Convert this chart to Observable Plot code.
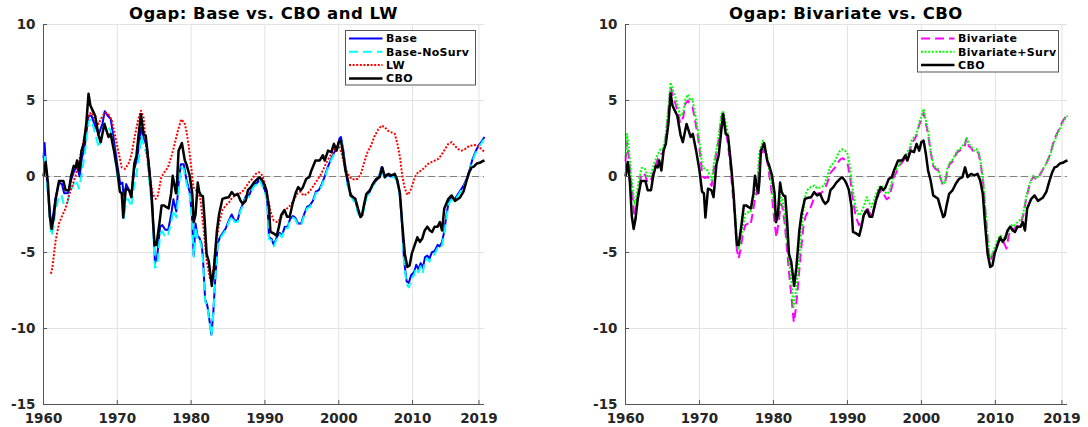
<!DOCTYPE html>
<html><head><meta charset="utf-8">
<script src="https://cdn.jsdelivr.net/npm/d3@7"></script>
<script src="https://cdn.jsdelivr.net/npm/@observablehq/plot@0.6"></script>
<style>
body{margin:0;background:#fff;}
#fig{position:relative;width:1088px;height:427px;overflow:hidden;font-family:"DejaVu Sans",sans-serif;background:#fff;}
.panel{position:absolute;top:0;}
.title{position:absolute;top:6px;font-weight:bold;font-size:16.5px;line-height:16px;letter-spacing:0.5px;color:#000;text-align:center;white-space:nowrap;width:500px;}
#legend{position:absolute;top:0;left:0;pointer-events:none;}
</style></head><body><div id="fig"></div>
<script>
// ---- axes ----
const xDomain = [1960, 2019.75];
const yDomain = [-15, 10];
const xTicks = [1960, 1970, 1980, 1990, 2000, 2010, 2019];
const yTicks = [-15, -10, -5, 0, 5, 10];
const titles = ["Ogap: Base vs. CBO and LW", "Ogap: Bivariate vs. CBO"];

// ---- series (year, output gap %) ----
const cbo = [[1960.0,0.0],[1960.3,0.95],[1960.6,-0.4],[1960.85,-2.6],[1961.1,-3.45],[1961.35,-2.8],[1961.65,-1.5],[1962.1,-0.3],[1962.4,-0.3],[1962.7,-0.3],[1963.0,-0.9],[1963.45,-0.9],[1963.75,0.05],[1964.1,0.7],[1964.35,0.6],[1964.55,1.05],[1964.85,0.4],[1965.15,1.7],[1965.45,2.15],[1965.8,3.5],[1966.1,5.44],[1966.35,4.67],[1966.7,4.3],[1967.0,4.0],[1967.45,2.7],[1967.75,2.26],[1968.25,3.46],[1968.55,3.0],[1968.8,2.6],[1969.1,2.8],[1969.55,1.7],[1970.0,0.4],[1970.35,-1.0],[1970.6,-1.1],[1970.8,-2.7],[1971.15,-0.8],[1971.6,-0.9],[1971.9,-1.36],[1972.3,0.83],[1972.6,1.4],[1972.9,2.8],[1973.2,4.1],[1973.55,2.8],[1973.85,2.7],[1974.3,0.6],[1974.6,-1.1],[1975.05,-4.5],[1975.3,-4.5],[1975.7,-3.1],[1976.0,-1.9],[1976.3,-1.9],[1976.6,-2.0],[1976.95,-2.1],[1977.3,-1.1],[1977.5,0.05],[1977.95,-1.1],[1978.1,-0.3],[1978.3,1.7],[1978.75,2.2],[1979.15,1.05],[1979.35,0.83],[1979.8,0.07],[1980.15,-1.1],[1980.35,-3.0],[1980.6,-2.5],[1980.9,-0.4],[1981.1,-1.0],[1981.35,-1.25],[1981.6,-1.3],[1981.85,-3.0],[1982.1,-5.1],[1982.4,-5.6],[1982.8,-7.2],[1983.1,-6.0],[1983.5,-3.55],[1983.8,-2.45],[1984.25,-1.47],[1984.7,-1.4],[1985.1,-1.36],[1985.5,-1.03],[1985.9,-1.25],[1986.3,-1.14],[1986.7,-1.6],[1987.0,-1.8],[1987.4,-1.6],[1987.7,-0.9],[1988.1,-0.7],[1988.5,-0.4],[1989.0,-0.15],[1989.3,-0.05],[1989.65,-0.26],[1989.9,-0.5],[1990.2,-0.9],[1990.55,-2.0],[1990.75,-3.65],[1991.2,-3.75],[1991.6,-3.9],[1991.9,-3.3],[1992.2,-2.55],[1992.65,-2.2],[1993.0,-2.65],[1993.35,-2.65],[1993.8,-1.7],[1994.2,-1.03],[1994.5,-0.7],[1994.85,-0.9],[1995.15,-0.7],[1995.6,-0.15],[1996.0,-0.05],[1996.3,0.4],[1996.85,1.05],[1997.4,1.05],[1997.85,1.4],[1998.1,1.05],[1998.55,1.7],[1999.0,1.6],[1999.35,2.15],[1999.7,1.7],[2000.0,2.26],[2000.3,2.36],[2000.6,1.5],[2000.9,0.4],[2001.25,-0.26],[2001.6,-1.25],[2001.95,-1.36],[2002.25,-1.47],[2002.6,-2.1],[2002.95,-2.67],[2003.15,-2.56],[2003.45,-1.8],[2003.75,-1.14],[2004.2,-0.92],[2004.65,-0.48],[2005.1,-0.15],[2005.55,-0.04],[2005.9,0.6],[2006.25,-0.04],[2006.7,0.17],[2007.15,0.07],[2007.6,0.17],[2007.95,-0.26],[2008.3,-1.14],[2008.6,-3.1],[2008.95,-5.08],[2009.3,-5.95],[2009.6,-5.85],[2009.9,-5.08],[2010.3,-4.5],[2010.65,-4.0],[2011.0,-4.3],[2011.3,-4.1],[2011.65,-3.55],[2012.0,-3.3],[2012.35,-3.55],[2012.65,-3.65],[2013.0,-3.3],[2013.4,-3.3],[2013.7,-3.0],[2014.0,-3.55],[2014.3,-2.1],[2014.85,-1.47],[2015.3,-1.25],[2015.75,-1.6],[2016.4,-1.4],[2016.9,-1.0],[2017.3,-0.3],[2017.7,0.3],[2018.0,0.6],[2018.3,0.65],[2018.7,0.85],[2019.1,0.9],[2019.45,1.0],[2019.75,1.05]];

const base = [[1960.0,1.2],[1960.15,2.2],[1960.35,0.5],[1960.6,-1.0],[1961.0,-3.0],[1961.2,-2.9],[1961.6,-1.5],[1962.1,-0.4],[1962.5,-0.5],[1962.8,-1.1],[1963.3,-1.1],[1963.7,-0.3],[1964.1,0.3],[1964.5,0.7],[1964.9,0.0],[1965.2,1.2],[1965.6,2.0],[1966.1,4.0],[1966.5,4.0],[1967.0,3.3],[1967.5,2.8],[1968.0,3.5],[1968.3,4.3],[1968.7,4.0],[1969.1,3.8],[1969.5,2.5],[1970.0,0.8],[1970.4,-0.5],[1970.7,-0.4],[1970.9,-1.6],[1971.2,-0.5],[1971.5,-0.8],[1971.9,-1.2],[1972.3,0.5],[1972.7,1.2],[1973.0,2.3],[1973.25,3.2],[1973.6,2.5],[1974.0,2.0],[1974.4,0.2],[1974.7,-1.3],[1975.1,-5.7],[1975.4,-5.3],[1975.8,-3.3],[1976.1,-3.2],[1976.5,-3.5],[1976.9,-3.5],[1977.3,-2.5],[1977.6,-1.5],[1978.0,-2.3],[1978.3,-0.5],[1978.6,0.8],[1979.0,0.8],[1979.4,-0.3],[1979.8,-1.0],[1980.1,-2.5],[1980.35,-5.2],[1980.6,-3.1],[1980.9,-4.0],[1981.1,-4.0],[1981.4,-4.4],[1981.6,-5.3],[1981.9,-8.1],[1982.2,-8.5],[1982.5,-9.5],[1982.75,-10.4],[1983.0,-9.0],[1983.3,-6.5],[1983.6,-4.4],[1983.9,-4.0],[1984.3,-3.7],[1984.7,-3.4],[1985.1,-2.9],[1985.5,-2.5],[1985.9,-2.9],[1986.3,-2.9],[1986.6,-2.3],[1987.0,-1.8],[1987.4,-1.3],[1987.9,-1.2],[1988.3,-0.7],[1988.6,-0.5],[1989.0,-0.4],[1989.3,-0.1],[1989.6,-0.5],[1990.0,-0.9],[1990.3,-1.5],[1990.55,-4.0],[1990.9,-4.1],[1991.2,-4.5],[1991.6,-4.0],[1992.0,-3.7],[1992.3,-3.9],[1992.7,-3.3],[1993.1,-3.3],[1993.4,-2.8],[1993.8,-2.6],[1994.1,-2.7],[1994.5,-3.1],[1994.9,-3.1],[1995.3,-2.5],[1995.7,-2.0],[1996.1,-1.9],[1996.5,-1.6],[1996.9,-1.0],[1997.3,-0.9],[1997.7,-0.5],[1998.1,0.0],[1998.5,0.6],[1999.0,1.2],[1999.4,1.6],[1999.8,1.9],[2000.1,2.5],[2000.3,2.6],[2000.6,1.8],[2000.9,0.7],[2001.2,-0.5],[2001.6,-1.1],[2002.0,-1.5],[2002.3,-1.6],[2002.6,-2.3],[2002.9,-2.6],[2003.2,-2.5],[2003.5,-1.8],[2003.8,-1.2],[2004.2,-1.0],[2004.6,-0.5],[2005.0,-0.3],[2005.4,-0.1],[2005.8,0.6],[2006.2,0.0],[2006.6,0.15],[2007.0,0.0],[2007.4,0.1],[2007.8,-0.1],[2008.2,-0.9],[2008.5,-2.5],[2008.85,-5.5],[2009.2,-6.9],[2009.5,-7.0],[2009.8,-6.5],[2010.2,-6.3],[2010.5,-5.8],[2010.8,-6.1],[2011.1,-5.7],[2011.4,-6.0],[2011.7,-5.3],[2012.0,-5.2],[2012.3,-5.4],[2012.6,-5.0],[2013.0,-4.9],[2013.4,-4.5],[2013.7,-4.6],[2014.0,-4.3],[2014.3,-3.6],[2014.6,-2.5],[2014.9,-1.7],[2015.3,-1.4],[2015.7,-1.5],[2016.1,-1.2],[2016.5,-0.9],[2016.9,-0.6],[2017.3,-0.2],[2017.7,0.4],[2018.1,1.1],[2018.5,1.6],[2018.9,2.0],[2019.35,2.3],[2019.75,2.6]];

const baseNoSurv = [[1960.0,1.1],[1960.2,1.3],[1960.4,0.0],[1960.7,-2.0],[1961.05,-3.9],[1961.3,-3.5],[1961.6,-2.3],[1962.0,-1.5],[1962.4,-1.2],[1962.8,-1.9],[1963.2,-1.8],[1963.6,-1.0],[1964.0,-0.6],[1964.4,-0.2],[1964.8,-0.8],[1965.2,0.2],[1965.6,1.5],[1966.1,3.6],[1966.5,3.8],[1967.0,2.8],[1967.5,1.9],[1968.0,2.9],[1968.3,3.5],[1968.7,3.3],[1969.1,3.0],[1969.5,1.9],[1970.0,0.0],[1970.4,-1.0],[1970.7,-1.2],[1970.9,-2.8],[1971.2,-1.5],[1971.5,-1.5],[1971.9,-2.0],[1972.3,-0.5],[1972.7,0.5],[1973.0,1.5],[1973.25,2.7],[1973.6,2.0],[1974.0,1.4],[1974.4,-0.6],[1974.7,-2.0],[1975.1,-6.0],[1975.4,-5.9],[1975.8,-3.8],[1976.1,-3.6],[1976.5,-4.0],[1976.9,-3.8],[1977.3,-3.0],[1977.6,-2.2],[1978.0,-2.7],[1978.3,-1.0],[1978.6,0.6],[1979.0,0.5],[1979.4,-0.5],[1979.8,-1.2],[1980.1,-2.7],[1980.35,-5.3],[1980.6,-3.3],[1980.9,-4.2],[1981.1,-4.1],[1981.4,-4.6],[1981.6,-5.5],[1981.9,-8.2],[1982.2,-8.6],[1982.5,-9.6],[1982.75,-10.5],[1983.0,-9.1],[1983.3,-6.6],[1983.6,-4.5],[1983.9,-4.1],[1984.3,-3.8],[1984.7,-3.5],[1985.1,-3.0],[1985.5,-2.6],[1985.9,-3.0],[1986.3,-3.0],[1986.6,-2.4],[1987.0,-1.9],[1987.4,-1.4],[1987.9,-1.3],[1988.3,-0.8],[1988.6,-0.6],[1989.0,-0.5],[1989.3,-0.2],[1989.6,-0.6],[1990.0,-1.0],[1990.3,-1.6],[1990.55,-4.1],[1990.9,-4.2],[1991.2,-4.6],[1991.6,-4.1],[1992.0,-3.8],[1992.3,-4.0],[1992.7,-3.4],[1993.1,-3.4],[1993.4,-2.9],[1993.8,-2.7],[1994.1,-2.8],[1994.5,-3.2],[1994.9,-3.2],[1995.3,-2.6],[1995.7,-2.1],[1996.1,-2.0],[1996.5,-1.7],[1996.9,-1.1],[1997.3,-1.0],[1997.7,-0.6],[1998.1,-0.1],[1998.5,0.5],[1999.0,1.1],[1999.4,1.5],[1999.8,1.8],[2000.1,2.4],[2000.3,2.5],[2000.6,1.7],[2000.9,0.6],[2001.2,-0.6],[2001.6,-1.2],[2002.0,-1.6],[2002.3,-1.7],[2002.6,-2.4],[2002.9,-2.7],[2003.2,-2.6],[2003.5,-1.9],[2003.8,-1.3],[2004.2,-1.1],[2004.6,-0.6],[2005.0,-0.4],[2005.4,-0.2],[2005.8,0.5],[2006.2,-0.1],[2006.6,0.05],[2007.0,-0.1],[2007.4,0.0],[2007.8,-0.2],[2008.2,-1.0],[2008.5,-2.6],[2008.85,-5.7],[2009.2,-7.1],[2009.5,-7.3],[2009.8,-6.8],[2010.2,-6.5],[2010.5,-6.0],[2010.8,-6.3],[2011.1,-5.9],[2011.4,-6.3],[2011.7,-5.5],[2012.0,-5.4],[2012.3,-5.6],[2012.6,-5.2],[2013.0,-5.1],[2013.4,-4.7],[2013.7,-4.8],[2014.0,-4.5],[2014.3,-3.8],[2014.6,-2.7],[2014.9,-1.8],[2015.3,-1.5],[2015.7,-1.6],[2016.1,-1.3],[2016.5,-1.0],[2016.9,-0.7],[2017.3,-0.3],[2017.7,0.3],[2018.1,1.0],[2018.5,1.5],[2018.9,1.9],[2019.35,2.2],[2019.75,2.5]];

const lw = [[1961.0,-6.4],[1961.2,-6.0],[1961.65,-4.2],[1962.1,-3.1],[1962.55,-2.55],[1963.0,-2.1],[1963.45,-1.25],[1963.9,-0.6],[1964.35,0.07],[1964.8,0.94],[1965.2,1.8],[1965.7,3.0],[1966.1,4.1],[1966.55,4.2],[1967.0,3.7],[1967.45,3.46],[1967.9,3.9],[1968.35,4.2],[1968.8,4.1],[1969.25,3.7],[1969.7,2.7],[1970.2,1.5],[1970.6,0.6],[1971.05,0.5],[1971.5,0.83],[1971.9,1.4],[1972.35,2.6],[1972.8,3.7],[1973.2,4.33],[1973.55,3.9],[1973.9,1.9],[1974.4,-0.05],[1974.8,-1.14],[1975.2,-1.47],[1975.5,-1.25],[1975.95,-0.05],[1976.4,0.3],[1976.85,0.6],[1977.3,1.27],[1977.7,2.0],[1978.2,3.0],[1978.65,3.75],[1979.1,3.55],[1979.4,2.9],[1979.7,1.9],[1980.0,0.7],[1980.3,-0.7],[1980.6,-0.9],[1980.9,-0.9],[1981.3,-1.6],[1981.7,-3.5],[1982.1,-5.5],[1982.5,-6.6],[1982.8,-7.0],[1983.1,-5.8],[1983.35,-4.4],[1983.8,-3.1],[1984.25,-2.2],[1984.7,-1.9],[1985.15,-1.7],[1985.6,-1.36],[1986.05,-1.25],[1986.5,-1.14],[1986.95,-1.0],[1987.4,-0.7],[1987.85,-0.37],[1988.3,-0.15],[1988.75,0.17],[1989.2,0.28],[1989.65,0.07],[1990.1,-0.7],[1990.45,-1.58],[1990.75,-2.3],[1991.2,-2.9],[1991.65,-3.0],[1992.1,-2.8],[1992.55,-2.35],[1993.0,-2.1],[1993.45,-1.9],[1993.9,-1.58],[1994.35,-1.14],[1994.8,-1.0],[1995.25,-1.25],[1995.7,-1.14],[1996.15,-0.92],[1996.6,-0.6],[1997.05,-0.26],[1997.5,0.07],[1997.95,0.5],[1998.3,0.9],[1998.6,1.15],[1999.0,1.5],[1999.45,1.8],[1999.9,2.15],[2000.35,1.6],[2000.8,0.7],[2001.25,0.17],[2001.7,-0.15],[2002.15,-0.2],[2002.6,-0.15],[2003.0,0.17],[2003.45,0.94],[2003.9,1.6],[2004.35,2.0],[2004.8,2.6],[2005.35,3.1],[2005.8,3.35],[2006.25,3.24],[2006.7,3.0],[2007.15,2.9],[2007.6,2.8],[2007.95,2.15],[2008.3,1.27],[2008.6,0.07],[2008.95,-0.8],[2009.3,-1.2],[2009.65,-1.0],[2009.95,-0.6],[2010.3,-0.05],[2010.75,0.28],[2011.2,0.4],[2011.65,0.6],[2012.1,0.83],[2012.55,0.94],[2013.0,1.05],[2013.5,1.16],[2013.9,1.4],[2014.4,1.8],[2014.85,2.15],[2015.3,2.26],[2015.75,2.0],[2016.2,1.8],[2016.65,1.7],[2017.1,1.8],[2017.65,2.0],[2018.2,2.05],[2018.7,2.1],[2019.1,1.9],[2019.45,1.75],[2019.75,1.6]];

const bivariate = [[1960.0,1.0],[1960.2,2.3],[1960.45,1.2],[1960.75,-0.3],[1961.2,-2.6],[1961.4,-2.3],[1961.8,-0.7],[1962.2,0.2],[1962.65,0.1],[1963.0,-0.4],[1963.4,-0.3],[1963.85,0.4],[1964.3,1.1],[1964.75,1.5],[1965.05,1.5],[1965.4,2.4],[1965.8,4.3],[1966.1,5.9],[1966.4,5.3],[1966.75,4.8],[1967.1,4.2],[1967.4,3.5],[1967.8,3.9],[1968.1,4.8],[1968.45,5.0],[1968.75,4.7],[1969.05,4.6],[1969.4,3.7],[1969.8,2.6],[1970.1,1.4],[1970.4,0.0],[1970.75,-0.1],[1971.1,0.0],[1971.4,-0.4],[1971.65,-0.6],[1972.0,0.7],[1972.3,1.6],[1972.65,2.6],[1972.95,3.9],[1973.2,4.2],[1973.5,3.2],[1973.8,2.3],[1974.1,1.1],[1974.4,-0.6],[1974.75,-2.5],[1975.05,-4.8],[1975.3,-5.4],[1975.55,-4.8],[1975.85,-3.8],[1976.2,-3.2],[1976.55,-3.1],[1976.9,-3.2],[1977.2,-2.4],[1977.5,-1.5],[1977.8,-0.9],[1978.1,0.9],[1978.55,1.8],[1978.85,1.5],[1979.1,1.2],[1979.4,0.2],[1979.7,-0.8],[1980.1,-2.8],[1980.4,-4.0],[1980.7,-3.0],[1981.0,-1.8],[1981.2,-2.0],[1981.5,-3.0],[1981.8,-4.6],[1982.1,-6.3],[1982.45,-8.0],[1982.75,-9.6],[1983.0,-8.8],[1983.35,-7.0],[1983.7,-5.0],[1984.05,-3.3],[1984.35,-2.6],[1984.7,-2.3],[1985.05,-2.0],[1985.5,-1.4],[1985.95,-1.1],[1986.4,-1.1],[1986.85,-0.9],[1987.3,-0.4],[1987.65,0.2],[1988.0,0.4],[1988.35,0.6],[1988.65,0.9],[1989.0,1.1],[1989.3,1.2],[1989.7,1.1],[1990.0,0.9],[1990.35,0.0],[1990.65,-1.2],[1991.1,-2.6],[1991.55,-3.2],[1991.9,-3.0],[1992.25,-2.5],[1992.6,-2.0],[1992.9,-2.3],[1993.25,-2.6],[1993.6,-2.1],[1993.95,-1.5],[1994.3,-1.1],[1994.6,-0.9],[1994.95,-1.2],[1995.3,-1.5],[1995.6,-1.4],[1996.0,-0.7],[1996.3,0.0],[1996.65,0.3],[1997.0,0.7],[1997.35,0.9],[1997.65,1.1],[1998.0,1.3],[1998.4,1.6],[1998.7,2.2],[1999.0,2.4],[1999.35,2.7],[1999.7,3.4],[2000.0,3.7],[2000.3,4.2],[2000.6,3.5],[2000.9,2.8],[2001.25,1.6],[2001.6,0.7],[2001.9,0.5],[2002.25,0.4],[2002.6,-0.15],[2002.9,-0.55],[2003.2,-0.45],[2003.5,0.4],[2003.85,0.85],[2004.15,0.95],[2004.5,1.3],[2004.85,1.6],[2005.2,1.7],[2005.5,1.9],[2005.85,2.0],[2006.1,2.5],[2006.4,2.0],[2006.7,1.9],[2007.1,1.6],[2007.45,1.7],[2007.75,1.5],[2008.05,0.7],[2008.35,-0.4],[2008.6,-2.0],[2008.9,-3.8],[2009.1,-5.0],[2009.3,-5.55],[2009.6,-5.2],[2009.85,-4.9],[2010.15,-4.6],[2010.45,-4.2],[2010.75,-4.1],[2011.1,-4.3],[2011.5,-4.75],[2011.8,-3.9],[2012.15,-3.4],[2012.45,-3.5],[2012.8,-3.3],[2013.2,-3.1],[2013.5,-3.0],[2013.8,-2.5],[2014.15,-1.5],[2014.5,-0.8],[2014.8,-0.3],[2015.15,0.0],[2015.5,-0.2],[2015.9,0.0],[2016.3,0.35],[2016.7,0.7],[2017.2,1.2],[2017.6,1.8],[2018.0,2.5],[2018.5,3.0],[2019.05,3.6],[2019.45,3.9],[2019.75,4.1]];

const bivariateSurv = [[1960.0,1.27],[1960.2,2.8],[1960.45,1.9],[1960.75,0.17],[1961.2,-1.8],[1961.4,-1.6],[1961.8,-0.26],[1962.2,0.57],[1962.65,0.5],[1963.0,-0.05],[1963.4,0.07],[1963.85,0.83],[1964.3,1.4],[1964.75,1.8],[1965.05,1.8],[1965.4,2.6],[1965.8,4.55],[1966.1,6.2],[1966.4,5.7],[1966.75,5.2],[1967.1,4.55],[1967.4,4.0],[1967.8,4.2],[1968.1,5.1],[1968.45,5.4],[1968.75,5.0],[1969.05,5.1],[1969.4,4.1],[1969.8,3.0],[1970.1,1.9],[1970.4,0.6],[1970.75,0.5],[1971.1,0.4],[1971.4,0.07],[1971.65,-0.26],[1972.0,1.05],[1972.3,1.8],[1972.65,2.8],[1972.95,4.1],[1973.2,4.3],[1973.5,3.6],[1973.8,2.9],[1974.1,1.7],[1974.4,-0.05],[1974.75,-2.0],[1975.05,-4.2],[1975.3,-4.75],[1975.55,-4.2],[1975.85,-3.3],[1976.2,-2.45],[1976.55,-2.35],[1976.9,-2.35],[1977.2,-1.6],[1977.5,-0.9],[1977.8,-0.37],[1978.1,1.6],[1978.55,2.36],[1978.85,1.8],[1979.1,1.5],[1979.4,0.5],[1979.7,-0.26],[1980.1,-2.0],[1980.4,-2.9],[1980.7,-2.35],[1981.0,-1.36],[1981.2,-1.47],[1981.5,-2.45],[1981.8,-4.0],[1982.1,-5.5],[1982.45,-7.05],[1982.7,-8.6],[1983.0,-7.7],[1983.35,-6.2],[1983.7,-4.0],[1984.05,-2.2],[1984.35,-1.14],[1984.7,-0.8],[1985.05,-0.7],[1985.5,-0.6],[1985.95,-0.8],[1986.4,-0.7],[1986.85,-0.6],[1987.3,0.07],[1987.65,0.6],[1988.0,0.83],[1988.35,1.05],[1988.65,1.4],[1989.0,1.7],[1989.3,1.8],[1989.7,1.7],[1990.0,1.5],[1990.35,0.6],[1990.65,-0.7],[1991.1,-2.0],[1991.55,-2.56],[1991.9,-2.35],[1992.25,-1.9],[1992.6,-1.36],[1992.9,-1.7],[1993.25,-2.0],[1993.6,-1.58],[1993.95,-1.03],[1994.3,-0.7],[1994.6,-0.6],[1994.95,-0.92],[1995.3,-1.14],[1995.6,-1.03],[1996.0,-0.37],[1996.3,0.28],[1996.65,0.5],[1997.0,0.83],[1997.35,1.05],[1997.65,1.27],[1998.0,1.5],[1998.4,1.9],[1998.7,2.4],[1999.0,2.6],[1999.35,2.8],[1999.7,3.57],[2000.0,4.0],[2000.3,4.45],[2000.6,3.7],[2000.9,3.0],[2001.25,1.7],[2001.6,0.83],[2001.9,0.6],[2002.25,0.5],[2002.6,-0.05],[2002.9,-0.48],[2003.2,-0.37],[2003.5,0.5],[2003.85,0.94],[2004.15,1.05],[2004.5,1.4],[2004.85,1.7],[2005.2,1.8],[2005.5,2.0],[2005.85,2.15],[2006.1,2.6],[2006.4,2.15],[2006.7,2.0],[2007.1,1.7],[2007.45,1.8],[2007.75,1.6],[2008.05,0.83],[2008.35,-0.26],[2008.6,-1.8],[2008.9,-3.55],[2009.1,-4.75],[2009.3,-5.3],[2009.6,-5.08],[2009.85,-4.75],[2010.15,-4.4],[2010.45,-4.0],[2010.75,-3.9],[2011.1,-4.0],[2011.5,-4.1],[2011.8,-3.55],[2012.15,-3.2],[2012.45,-3.3],[2012.8,-3.1],[2013.2,-2.9],[2013.5,-2.8],[2013.8,-2.35],[2014.15,-1.36],[2014.5,-0.7],[2014.8,-0.26],[2015.15,0.07],[2015.5,-0.15],[2015.9,0.07],[2016.3,0.4],[2016.7,0.7],[2017.2,1.16],[2017.6,1.7],[2018.0,2.36],[2018.5,2.9],[2019.05,3.5],[2019.45,3.8],[2019.75,4.0]];

// ---- series styling ----
const leftSeries = [
  {name: "Base", data: base, stroke: "#0000ff", dash: null, width: 2},
  {name: "Base-NoSurv", data: baseNoSurv, stroke: "#00ffff", dash: "9,5", width: 2},
  {name: "LW", data: lw, stroke: "#ff0000", dash: "2,1.6", width: 2},
  {name: "CBO", data: cbo, stroke: "#000000", dash: null, width: 2.5}
];
const rightSeries = [
  {name: "Bivariate", data: bivariate, stroke: "#ff00ff", dash: "9,5", width: 2},
  {name: "Bivariate+Surv", data: bivariateSurv, stroke: "#00ff00", dash: "2,1.6", width: 2},
  {name: "CBO", data: cbo, stroke: "#000000", dash: null, width: 2.5}
];

function panel(series, ml, mr) {
  return Plot.plot({
    width: 544, height: 427,
    marginLeft: ml, marginRight: mr, marginTop: 24, marginBottom: 23,
    x: {domain: xDomain},
    y: {domain: yDomain},
    style: {fontFamily: "'DejaVu Sans', sans-serif", fontWeight: "bold", fontSize: "13.5px", color: "#262626", background: "transparent", overflow: "visible"},
    marks: [
      Plot.gridX(xTicks, {stroke: "#e2e2e2", strokeOpacity: 1}),
      Plot.gridY(yTicks, {stroke: "#e2e2e2", strokeOpacity: 1}),
      Plot.ruleY([0], {stroke: "#7f7f7f", strokeWidth: 1, strokeDasharray: "7,4"}),
      ...series.map(s => Plot.line(s.data, {x: d => d[0], y: d => d[1], stroke: s.stroke, strokeWidth: s.width, strokeDasharray: s.dash, strokeLinecap: "butt", strokeLinejoin: "round"})),
      Plot.ruleX([xDomain[0]], {stroke: "#555", strokeWidth: 1}),
      Plot.ruleY([yDomain[0]], {stroke: "#555", strokeWidth: 1}),
      Plot.axisX(xTicks, {tickSize: 0, tickPadding: 9, tickFormat: d => String(d), label: null, fill: "#262626"}),
      Plot.axisY(yTicks, {tickSize: 0, tickPadding: 8, tickFormat: d => String(d), label: null, fill: "#262626"}),
      Plot.axisX(xTicks, {tickSize: -4, text: null, label: null, stroke: "#555"}),
      Plot.axisY(yTicks, {tickSize: -4, text: null, label: null, stroke: "#555"})
    ]
  });
}

const fig = document.getElementById("fig");
const left = panel(leftSeries, 43, 60);
left.classList.add("panel"); left.style.left = "0px";
const right = panel(rightSeries, 81, 21);
right.classList.add("panel"); right.style.left = "544px";
fig.appendChild(left); fig.appendChild(right);

// titles (centred over each plot area)
const titleCenters = [263.5, 846];
titles.forEach((t, i) => {
  const d = document.createElement("div");
  d.className = "title";
  d.textContent = t;
  d.style.left = (titleCenters[i] - 250) + "px";
  fig.appendChild(d);
});

// legends
const legendBoxes = [
  {x: 345.5, y: 30.5, w: 130, h: 54.5, series: leftSeries},
  {x: 917.5, y: 30.5, w: 141, h: 41.5, series: rightSeries}
];
const svg = d3.select(fig).append("svg").attr("id", "legend").attr("width", 1088).attr("height", 427);
legendBoxes.forEach(b => {
  svg.append("rect").attr("x", b.x).attr("y", b.y).attr("width", b.w).attr("height", b.h)
    .attr("fill", "#fff").attr("stroke", "#555").attr("stroke-width", 1);
  b.series.forEach((s, i) => {
    const yy = b.y + 8 + i * 13.3;
    svg.append("line").attr("x1", b.x + 3.5).attr("x2", b.x + 37).attr("y1", yy).attr("y2", yy)
      .attr("stroke", s.stroke).attr("stroke-width", s.width).attr("stroke-dasharray", s.dash);
    svg.append("text").attr("x", b.x + 40.5).attr("y", yy).attr("dy", "0.36em")
      .attr("font-family", "'DejaVu Sans', sans-serif").attr("font-weight", "bold").attr("font-size", 11)
      .attr("letter-spacing", "0.35px")
      .attr("fill", "#000").text(s.name);
  });
});
</script></body></html>
